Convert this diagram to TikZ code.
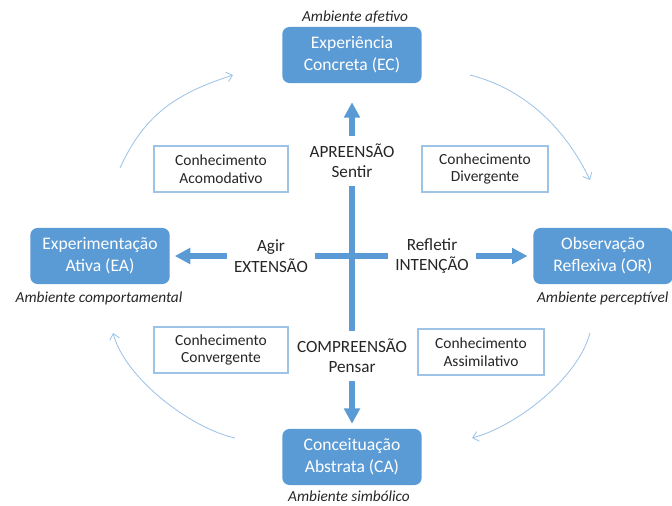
\documentclass[tikz,border=0pt]{standalone}
\usepackage{fontspec}
\setmainfont{Carlito}
\usetikzlibrary{arrows.meta}
\definecolor{ELBlue}{HTML}{5B9BD5}
\definecolor{ELLine}{HTML}{9DC3E6}
\definecolor{ELText}{HTML}{262626}
\tikzset{
  phase/.style={fill=ELBlue, rounded corners=5pt, text=white, align=center,
    minimum width=3.48cm, minimum height=1.4cm, font=\fontsize{12.5}{15.5}\selectfont},
  envlabel/.style={text=ELText, inner sep=1pt, font=\fontsize{10.9}{12}\selectfont\itshape},
  knowbox/.style={draw=ELLine, line width=0.8pt, fill=white, align=center, text=ELText,
    minimum width=3.35cm, minimum height=1.15cm, font=\fontsize{11}{12.5}\selectfont},
  axislabel/.style={align=center, text=ELText, inner xsep=5pt, inner ysep=5.5pt,
    font=\fontsize{12.2}{14.5}\selectfont},
  axisline/.style={draw=ELBlue, line width=4.2pt},
  axisarrow/.style={axisline, -{Triangle[width=11pt,length=11pt]}},
  cyclearc/.style={draw=ELLine, line width=0.6pt, -{Straight Barb[length=4pt,width=7pt]}}
}
\begin{document}
\begin{tikzpicture}[x=0.025cm,y=-0.025cm]
\path[use as bounding box] (0,0) rectangle (672,506);
% four phases of the cycle
\node[phase] (ec) at (352,55) {Experiência\\Concreta (EC)};
\node[phase] (ea) at (100,256) {Experimentação\\Ativa (EA)};
\node[phase] (or) at (603,256) {Observação\\Reflexiva (OR)};
\node[phase] (ca) at (352,457) {Conceituação\\Abstrata (CA)};
\node[envlabel] (ecenv) at (355,17) {Ambiente afetivo};
\node[envlabel] (eaenv) at (99,298) {Ambiente comportamental};
\node[envlabel,anchor=east] (orenv) at (670,298) {Ambiente perceptível};
\node[envlabel] (caenv) at (349,496) {Ambiente simbólico};
% kinds of knowledge
\node[knowbox] (acom) at (221,169) {Conhecimento\\Acomodativo};
\node[knowbox,minimum width=3.15cm] (diver) at (485,169) {Conhecimento\\Divergente};
\node[knowbox] (conv) at (221,350) {Conhecimento\\Convergente};
\node[knowbox,minimum width=3.15cm] (assim) at (481,352) {Conhecimento\\Assimilativo};
% the cross
\node[axislabel] (apr) at (352,161) {APREENSÃO\\Sentir};
\node[axislabel] (comp) at (352,356) {COMPREENSÃO\\Pensar};
\node[axislabel] (agir) at (271,256) {Agir\\EXTENSÃO};
\node[axislabel] (refl) at (432,256) {Refletir\\INTENÇÃO};
\draw[axisline] (apr) -- (comp);
\draw[axisline] (agir) -- (refl);
\draw[axisarrow,shorten >=13.5pt] (apr) -- (ec);
\draw[axisarrow,shorten >=3.5pt] (comp) -- (ca);
\draw[axisarrow,shorten >=3.5pt] (agir) -- (ea);
\draw[axisarrow,shorten >=4pt] (refl) -- (or);
% outer cycle
\coordinate (tl1) at (120,168);
\coordinate (tl2) at (233,75);
\coordinate (tr1) at (470,75);
\coordinate (tr2) at (590,180);
\coordinate (br1) at (590,333);
\coordinate (br2) at (472,438);
\coordinate (bl1) at (235,438);
\coordinate (bl2) at (113,333);
\draw[cyclearc] (tl1) .. controls +(25,-55) and +(-55,18) .. (tl2);
\draw[cyclearc] (tr1) .. controls +(55,14) and +(-25,-52) .. (tr2);
\draw[cyclearc] (br1) .. controls +(-12,45) and +(45,-12) .. (br2);
\draw[cyclearc] (bl1) .. controls +(-45,-10) and +(12,45) .. (bl2);
\end{tikzpicture}
\end{document}
